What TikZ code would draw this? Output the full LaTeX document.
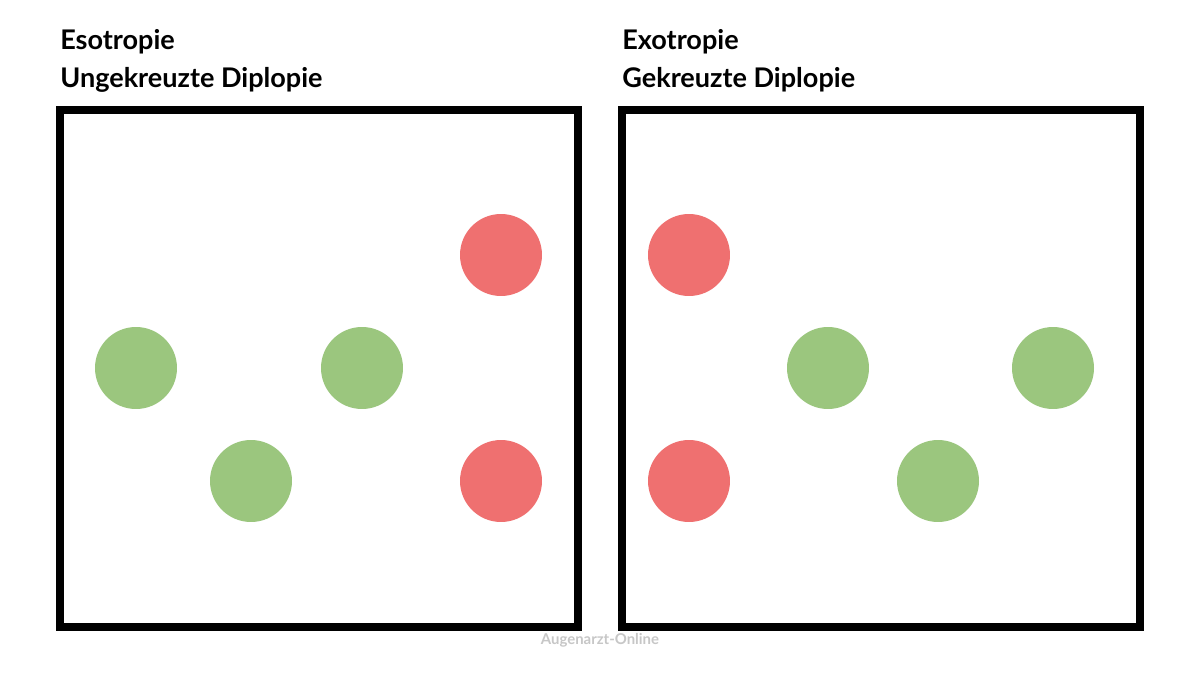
\documentclass[tikz,border=0pt]{standalone}
\usepackage{fontspec}
\setmainfont{Lato}
\definecolor{doppelrot}{HTML}{EF7070}
\definecolor{doppelgruen}{HTML}{9BC67E}
\tikzset{
  feld/.style={draw=black, line width=0.16cm},
  titel/.style={anchor=base west, inner sep=0pt, font=\fontsize{15.4}{18}\selectfont\bfseries},
  rotbild/.style={circle, fill=doppelrot, minimum size=1.64cm, inner sep=0pt},
  gruenbild/.style={circle, fill=doppelgruen, minimum size=1.64cm, inner sep=0pt}
}

\begin{document}
\begin{tikzpicture}[x=0.02cm, y=-0.02cm]
      \useasboundingbox[fill=white] (0,0) rectangle (1201,676);
      % Esotropie
      \node[titel] (esoA) at (60,50) {Esotropie};
      \node[titel] (esoB) at (60,87) {Ungekreuzte Diplopie};
      \draw[feld] (60,110) rectangle (578,627);
      \foreach \x/\y/\name in {501/255/esoR1, 501/481/esoR2} {
          \node[rotbild] (\name) at (\x,\y) {};
        };
      \foreach \x/\y/\name in {136/368/esoG1, 362/368/esoG2, 251/481/esoG3} {
          \node[gruenbild] (\name) at (\x,\y) {};
        };
      % Exotropie
      \node[titel] (exoA) at (622,50) {Exotropie};
      \node[titel] (exoB) at (622,87) {Gekreuzte Diplopie};
      \draw[feld] (622,110) rectangle (1140,627);
      \foreach \x/\y/\name in {689/255/exoR1, 689/481/exoR2} {
          \node[rotbild] (\name) at (\x,\y) {};
        };
      \foreach \x/\y/\name in {828/368/exoG1, 1053/368/exoG2, 938/481/exoG3} {
          \node[gruenbild] (\name) at (\x,\y) {};
        };
      % Wasserzeichen
      \node[text=black!22, font=\fontsize{8.5}{10}\selectfont\bfseries] (marke) at (600,640) {Augenarzt-Online};
    \end{tikzpicture}
\end{document}
